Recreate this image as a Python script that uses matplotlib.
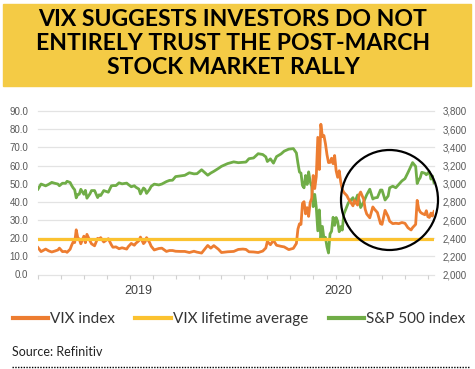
import numpy as np
import matplotlib
matplotlib.use("Agg")
import matplotlib.pyplot as plt
from matplotlib.patches import Rectangle, Ellipse
from matplotlib.lines import Line2D
from matplotlib.ticker import FuncFormatter, MultipleLocator

title_lines = ["VIX SUGGESTS INVESTORS DO NOT",
               "ENTIRELY TRUST THE POST-MARCH",
               "STOCK MARKET RALLY"]
series_names = ["VIX index", "VIX lifetime average", "S&P 500 index"]
source = "Source: Refinitiv"
years = ["2019", "2020"]

dates = [
 "2019-07-01","2019-07-03","2019-07-08","2019-07-10","2019-07-12","2019-07-16","2019-07-18","2019-07-19",
 "2019-07-23","2019-07-25","2019-07-26","2019-07-30","2019-07-31","2019-08-01","2019-08-02","2019-08-05",
 "2019-08-06","2019-08-07","2019-08-08","2019-08-12","2019-08-13","2019-08-14","2019-08-16","2019-08-19",
 "2019-08-21","2019-08-23","2019-08-26","2019-08-27","2019-08-29","2019-09-03","2019-09-05","2019-09-06",
 "2019-09-10","2019-09-12","2019-09-16","2019-09-19","2019-09-20","2019-09-24","2019-09-26","2019-09-27",
 "2019-10-01","2019-10-02","2019-10-04","2019-10-07","2019-10-08","2019-10-10","2019-10-11","2019-10-15",
 "2019-10-18","2019-10-22","2019-10-25","2019-10-29","2019-10-31","2019-11-04","2019-11-07","2019-11-12",
 "2019-11-15","2019-11-20","2019-11-22","2019-11-27","2019-12-03","2019-12-05","2019-12-09","2019-12-12",
 "2019-12-16","2019-12-20","2019-12-26","2019-12-31",
 "2020-01-03","2020-01-07","2020-01-09","2020-01-14","2020-01-17","2020-01-22","2020-01-24","2020-01-27",
 "2020-01-29","2020-01-31","2020-02-04","2020-02-07","2020-02-11","2020-02-14","2020-02-19","2020-02-21",
 "2020-02-24","2020-02-25","2020-02-26","2020-02-27","2020-02-28","2020-03-02","2020-03-03","2020-03-04",
 "2020-03-05","2020-03-06","2020-03-09","2020-03-10","2020-03-11","2020-03-12","2020-03-13","2020-03-16",
 "2020-03-17","2020-03-18","2020-03-19","2020-03-20","2020-03-23","2020-03-24","2020-03-25","2020-03-26",
 "2020-03-27","2020-03-30","2020-03-31","2020-04-01","2020-04-02","2020-04-03","2020-04-06","2020-04-08",
 "2020-04-09","2020-04-14","2020-04-15","2020-04-17","2020-04-20","2020-04-21","2020-04-23","2020-04-24",
 "2020-04-27","2020-04-29","2020-05-01","2020-05-04","2020-05-06","2020-05-08","2020-05-11","2020-05-13",
 "2020-05-15","2020-05-18","2020-05-20","2020-05-22","2020-05-26","2020-05-28","2020-06-01","2020-06-03",
 "2020-06-05","2020-06-08","2020-06-10","2020-06-11","2020-06-12","2020-06-15","2020-06-16","2020-06-18",
 "2020-06-19","2020-06-22","2020-06-23","2020-06-24","2020-06-25","2020-06-26"]

spx = [
 2940,2996,2976,2993,3014,3004,2996,2977,
 3005,3004,3026,3013,2980,2953,2932,2844,
 2881,2884,2938,2883,2926,2840,2889,2924,
 2924,2847,2878,2869,2924,2906,2976,2979,
 2979,3009,2998,3006,2992,2966,2977,2961,
 2940,2887,2952,2938,2893,2938,2970,2995,
 2986,2996,3023,3036,3038,3078,3085,3092,
 3120,3108,3110,3153,3093,3117,3136,3168,
 3191,3221,3240,3231,
 3235,3238,3275,3283,3330,3321,3295,3244,
 3273,3226,3298,3328,3358,3380,3386,3338,
 3226,3128,3116,2979,2954,3090,2991,3130,
 3024,2972,2747,2882,2741,2481,2711,2386,
 2529,2398,2409,2305,2237,2447,2476,2630,
 2541,2627,2585,2471,2527,2489,2664,2750,
 2790,2846,2783,2875,2823,2737,2798,2837,
 2878,2939,2831,2842,2848,2930,2930,2820,
 2864,2954,2972,2955,2992,3030,3055,3123,
 3194,3232,3190,3002,3041,3067,3125,3115,
 3098,3118,3131,3050,3084,3009]

vix = [
 14.8,12.6,14.0,13.0,12.4,12.9,13.5,14.5,
 12.6,12.7,12.2,13.9,16.1,17.9,17.6,24.6,
 20.2,19.5,16.9,21.1,17.5,22.1,18.5,16.9,
 15.8,19.9,19.3,20.3,17.9,19.7,16.3,15.0,
 15.2,14.2,14.7,14.0,15.3,17.1,16.1,17.2,
 18.6,20.6,17.0,17.9,20.3,17.6,15.6,13.5,
 14.3,14.5,12.7,13.2,13.2,12.8,12.7,12.7,
 12.1,12.8,12.3,11.8,16.0,14.5,15.9,13.9,
 12.1,12.5,12.7,13.8,
 14.0,13.8,12.5,12.4,12.1,12.9,14.6,18.2,
 16.4,18.8,16.1,15.5,15.2,13.7,14.4,17.1,
 25.0,27.9,27.6,39.2,40.1,33.4,36.8,32.0,
 39.6,41.9,54.5,47.3,53.9,75.5,57.8,82.7,
 75.9,76.5,72.0,66.0,61.6,61.7,64.0,61.0,
 65.5,57.1,53.5,57.1,50.9,46.8,45.2,43.4,
 41.7,37.8,40.8,38.2,43.8,45.4,41.4,35.9,
 33.3,31.2,37.2,36.0,34.1,28.0,27.6,35.3,
 31.9,29.3,28.0,28.2,28.0,28.6,28.2,25.7,
 24.5,25.8,27.6,40.8,36.1,34.4,33.7,32.9,
 35.1,31.8,31.4,33.8,32.2,34.7]

vix_avg = 19.3

# trading-day positions (category-like axis)
start = np.datetime64(dates[0])
d64 = np.array(dates, dtype="datetime64[D]")
x = np.busday_count(start, d64)

ORANGE = "#ED7D31"
GOLD = "#FBC230"
GREEN = "#70AD47"
GRAY = "#595959"

W, H = 475, 369
fig = plt.figure(figsize=(W/100, H/100), dpi=100)

# banner
fig.patches.append(Rectangle((3/W, 1-86/H), (471-3)/W, (86-4)/H,
                             transform=fig.transFigure, color="#F4CB45", zorder=0))
for i, (t, yc) in enumerate(zip(title_lines, [19.7, 43.5, 67.3])):
    fig.text(233/W, 1-yc/H, t, ha="center", va="center", fontsize=16.6,
             fontweight="bold", family="Lato", color="black")

ax = fig.add_axes([38/W, 1-274.5/H, (434-38)/W, (274.5-111)/H])
ax2 = ax.twinx()
ax.set_zorder(2); ax.patch.set_visible(False)
ax2.set_zorder(1)

ax.set_ylim(0, 90)
ax.yaxis.set_major_locator(MultipleLocator(10))
ax.yaxis.set_major_formatter(FuncFormatter(lambda v, p: f"{v:.1f}"))
ax2.set_ylim(2000, 3800)
ax2.yaxis.set_major_locator(MultipleLocator(200))
ax2.yaxis.set_major_formatter(FuncFormatter(lambda v, p: f"{int(v):,}"))
ax.set_xlim(x[0], x[-1])
ax.xaxis.set_major_locator(MultipleLocator(15))
ax.set_xticklabels([])

for a in (ax, ax2):
    for s in a.spines.values():
        s.set_visible(False)
ax.tick_params(axis="y", length=0, pad=7, labelsize=7, labelcolor=GRAY)
ax2.tick_params(axis="y", length=0, pad=6.5, labelsize=7, labelcolor=GRAY)
for lab in ax.get_yticklabels() + ax2.get_yticklabels():
    lab.set_family("Liberation Sans")
ax.tick_params(axis="x", length=3, width=0.8, color="#D0D0D0", direction="out")
ax2.tick_params(axis="x", length=0)

ax2.grid(axis="y", color="#E3E3E3", linewidth=0.9)
for gl in ax2.get_ygridlines():
    gl.set_clip_on(False)

ax2.plot(x, spx, color=GREEN, lw=2.0, solid_joinstyle="round", label=series_names[2])
ax.plot(x, vix, color=ORANGE, lw=2.0, solid_joinstyle="round", label=series_names[0])
ax.plot([x[0], x[-1]], [vix_avg, vix_avg], color=GOLD, lw=2.3, label=series_names[1])

# year labels near the middle of each year's span
yrs_pos = []
for yv in years:
    m = np.array([d.startswith(yv) for d in dates])
    yrs_pos.append((x[m].min() + x[m].max()) / 2)
for yv, xp in zip(years, yrs_pos):
    ax.text(xp, -0.10, yv, transform=ax.get_xaxis_transform(), ha="center",
            va="center", fontsize=9, color="#404040", family="Liberation Sans")

# circle annotation
fig.patches.append(Ellipse((389.5/W, 1-200/H), 97/W, 100/H, transform=fig.transFigure,
                           fill=False, edgecolor="black", lw=1.6, zorder=5))

handles = [Line2D([], [], color=c, lw=3) for c in (ORANGE, GOLD, GREEN)]
fig.legend(handles, series_names, loc="center", bbox_to_anchor=(239/W, 1-319/H),
           ncol=3, frameon=False, prop={"family": "Lato", "size": 11},
           handlelength=2.3, handletextpad=0.15, columnspacing=1.35,
           labelcolor="#333333")

fig.text(12/W, 1-352/H, source, ha="left", va="center", fontsize=9,
         family="Lato", color="#222222")
fig.add_artist(Line2D([12/W, 470/W], [1-367/H, 1-367/H], transform=fig.transFigure,
                      color="black", lw=1, linestyle=(0, (1, 1))))

fig.savefig("out.png", dpi=100)
